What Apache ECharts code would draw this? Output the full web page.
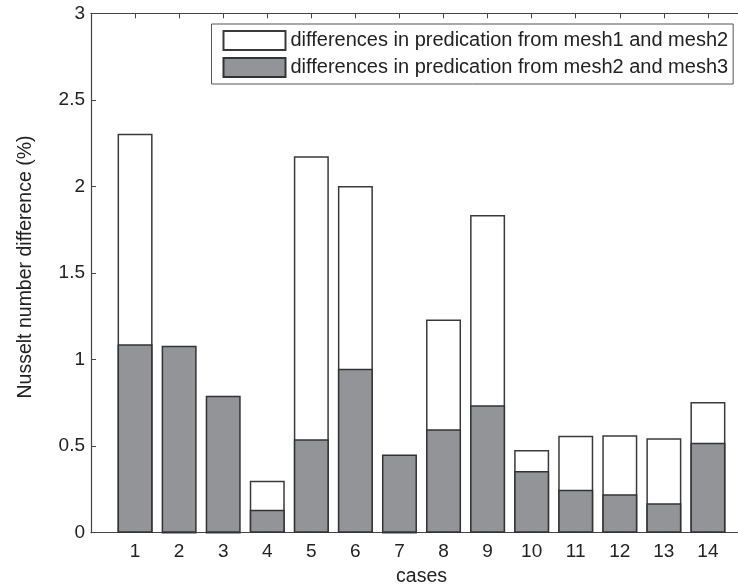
<!DOCTYPE html>
<html>
<head>
<meta charset="utf-8">
<script src="https://cdn.jsdelivr.net/npm/echarts@6/dist/echarts.min.js"></script>
<style>
  html, body { margin: 0; padding: 0; background: #fff; }
  #chart { width: 738px; height: 586px; }
</style>
</head>
<body>
<div id="chart"></div>
<script>
// Case numbers along the x axis
const cases = [1, 2, 3, 4, 5, 6, 7, 8, 9, 10, 11, 12, 13, 14];
// Nusselt number difference (%) between mesh1 and mesh2 (drawn behind)
const diffMesh12 = [2.305, 0, 0, 0.30, 2.175, 2.003, 0, 1.231, 1.835, 0.478, 0.560, 0.563, 0.545, 0.755];
// Nusselt number difference (%) between mesh2 and mesh3 (drawn in front)
const diffMesh23 = [1.088, 1.080, 0.791, 0.133, 0.540, 0.947, 0.451, 0.597, 0.736, 0.356, 0.248, 0.222, 0.170, 0.520];
const seriesNames = [
  'differences in predication from mesh1 and mesh2',
  'differences in predication from mesh2 and mesh3'
];

const font = 'Liberation Sans, Arial, Helvetica, sans-serif';
const ink = '#222';
const axisColor = '#444';

const chart = echarts.init(document.getElementById('chart'), null, { renderer: 'canvas' });

const pairs = arr => cases.map((c, i) => [c, arr[i]]);

const option = {
  backgroundColor: '#fff',
  animation: false,
  // the plot box runs past the right edge of the canvas
  grid: { left: 91, top: 13.3, width: 661, height: 519.4, outerBoundsMode: 'none', containLabel: false },
  legend: {
    left: 211.5,
    top: 24,
    orient: 'vertical',
    padding: [6, 5, 6, 11],
    itemWidth: 62,
    itemHeight: 19,
    itemGap: 6,
    icon: 'rect',
    borderColor: '#555',
    borderWidth: 1,
    backgroundColor: '#fff',
    textStyle: { fontFamily: font, fontSize: 20, color: ink },
    data: seriesNames
  },
  xAxis: [
    {
      type: 'value',
      min: 0, max: 15, interval: 1,
      name: 'cases',
      nameLocation: 'middle',
      nameGap: 31,
      nameTextStyle: { fontFamily: font, fontSize: 19.5, color: ink },
      axisLine: { show: true, onZero: false, lineStyle: { color: axisColor, width: 1.2 } },
      axisTick: { show: true, inside: true, length: 5, lineStyle: { color: axisColor } },
      axisLabel: {
        fontFamily: font, fontSize: 19, color: ink, margin: 10,
        formatter: v => (v >= 1 && v <= 14 ? String(v) : '')
      },
      splitLine: { show: false }
    },
    {
      type: 'value',
      position: 'top',
      min: 0, max: 15, interval: 1,
      axisLine: { show: true, onZero: false, lineStyle: { color: axisColor, width: 1.2 } },
      axisTick: { show: true, inside: true, length: 5, lineStyle: { color: axisColor } },
      axisLabel: { show: false },
      splitLine: { show: false }
    }
  ],
  yAxis: {
    type: 'value',
    min: 0, max: 3, interval: 0.5,
    name: 'Nusselt number difference (%)',
    nameLocation: 'middle',
    nameGap: 55,
    nameTextStyle: { fontFamily: font, fontSize: 19.5, color: ink, padding: [0, 0, 0, 12] },
    axisLine: { show: true, lineStyle: { color: axisColor, width: 1.2 } },
    axisTick: { show: true, inside: true, length: 5, lineStyle: { color: axisColor } },
    axisLabel: { fontFamily: font, fontSize: 19, color: ink, margin: 6 },
    splitLine: { show: false }
  },
  series: [
    {
      name: seriesNames[0],
      type: 'bar',
      xAxisIndex: 0,
      barWidth: 35,
      barGap: '-100%',
      data: pairs(diffMesh12),
      itemStyle: { color: '#ffffff', borderColor: '#3a3a3a', borderWidth: 1.5 }
    },
    {
      name: seriesNames[1],
      type: 'bar',
      xAxisIndex: 0,
      barWidth: 35,
      barGap: '-100%',
      data: pairs(diffMesh23),
      itemStyle: { color: '#939498', borderColor: '#333333', borderWidth: 1.5 }
    }
  ]
};

chart.setOption(option);
</script>
</body>
</html>
